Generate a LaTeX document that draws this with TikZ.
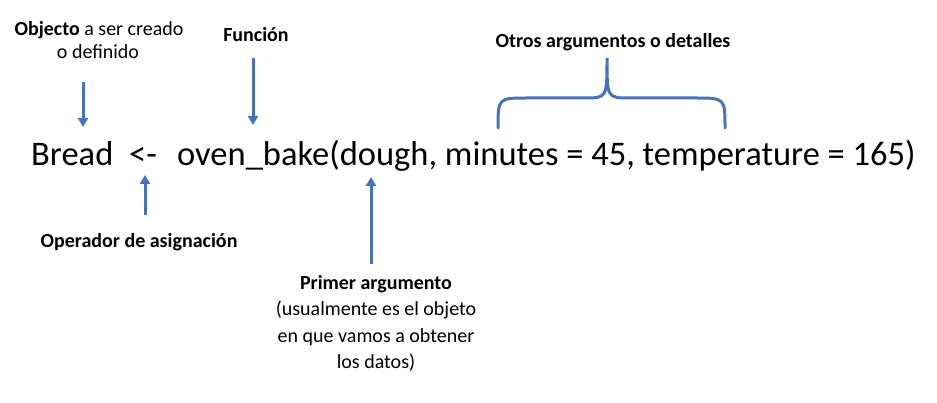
\documentclass[tikz,border=0pt]{standalone}
\usepackage{fontspec}
\setmainfont{Carlito}
\usetikzlibrary{arrows.meta}
\definecolor{arrowblue}{HTML}{4472C4}
\begin{document}
\begin{tikzpicture}[x=1pt,y=-1pt,
  lbl/.style={font=\fontsize{20}{26}\selectfont, anchor=base, inner sep=0pt, align=center},
  code/.style={font=\fontsize{34.5}{40}\selectfont, anchor=base west, inner sep=0pt},
  pointer/.style={draw=arrowblue, line width=3pt, -{Triangle[width=10pt,length=9pt]}},
  brace/.style={draw=arrowblue, line width=3pt, line cap=round}]
\useasboundingbox (0,0) rectangle (937,403);
% labels
\node[lbl] (obj1) at (99,36) {\textbf{Objecto} a ser creado};
\node[lbl] (obj2) at (98,59) {o definido};
\node[lbl] (fun) at (256,42) {\textbf{Función}};
\node[lbl] (otros) at (613,48) {\textbf{Otros argumentos o detalles}};
\node[lbl] (oper) at (139,248) {\textbf{Operador de asignación}};
\node[lbl] (prim1) at (376,290) {\textbf{Primer argumento}};
\node[lbl] (prim2) at (376,316) {(usualmente es el objeto};
\node[lbl] (prim3) at (376,342) {en que vamos a obtener};
\node[lbl] (prim4) at (376,368) {los datos)};
% code line
\node[code] (bread) at (31,166) {Bread};
\node[code, anchor=base] (assign) at (143,166) {<-};
\node[code] (call) at (177,166) {oven\_bake(dough, minutes = 45, temperature = 165)};
% arrow end points
\coordinate (a1s) at (83,82);
\coordinate (a1e) at (83,127);
\coordinate (a2s) at (253,58);
\coordinate (a2e) at (253,125);
\coordinate (a3s) at (145,215);
\coordinate (a3e) at (145,175);
\coordinate (a4s) at (371,264);
\coordinate (a4e) at (371,177);
\draw[pointer] (a1s) -- (a1e);
\draw[pointer] (a2s) -- (a2e);
\draw[pointer] (a3s) -- (a3e);
\draw[pointer] (a4s) -- (a4e);
% brace
\coordinate (bl) at (498,128);
\coordinate (bm) at (607,58);
\coordinate (br) at (725,128);
\draw[brace] (bl) .. controls (498,98) .. (528,98) -- (584,98)
  .. controls (607,98) .. (bm) .. controls (607,98) .. (630,98)
  -- (695,98) .. controls (725,98) .. (br);
\end{tikzpicture}
\end{document}
